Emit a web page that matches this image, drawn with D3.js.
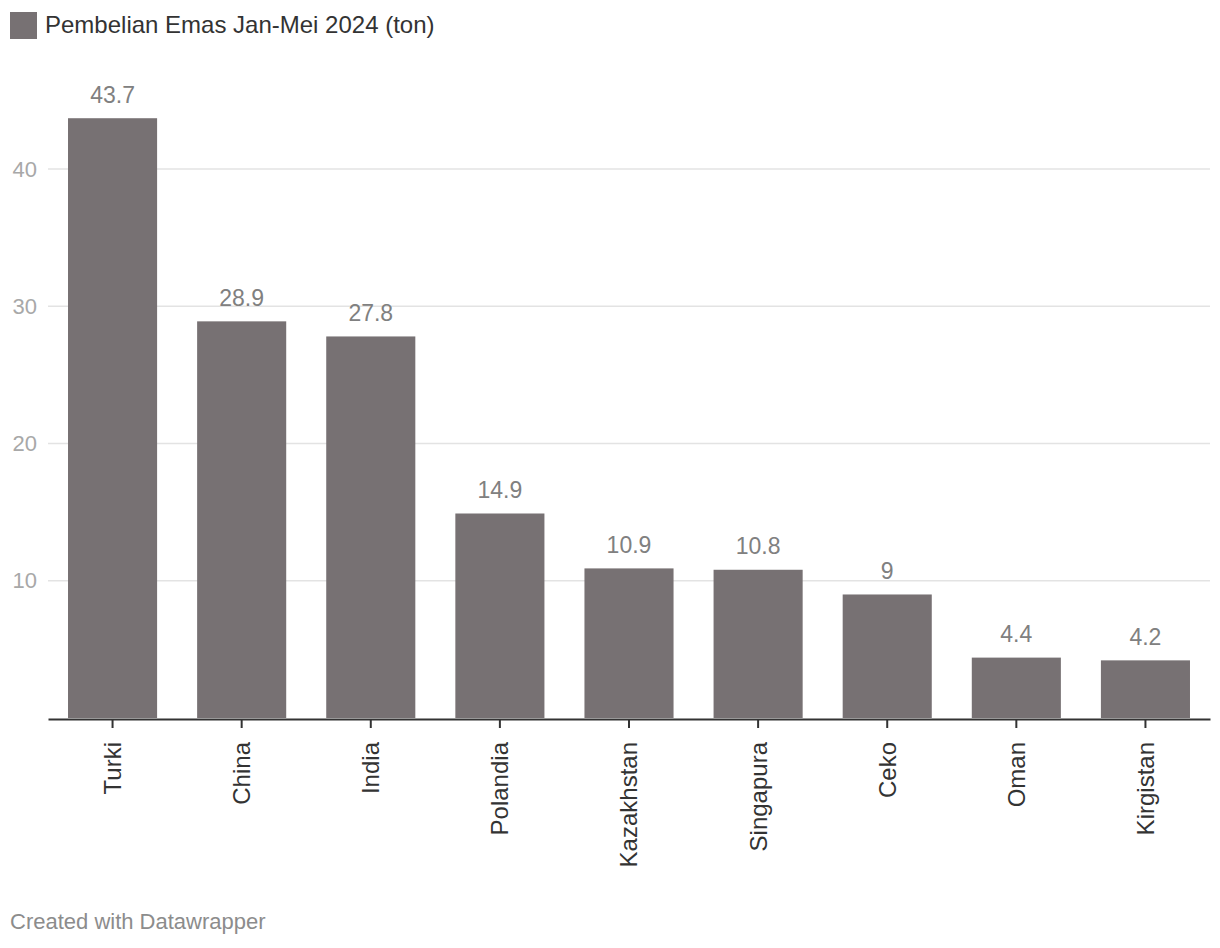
<!DOCTYPE html>
<html><head><meta charset="utf-8">
<script src="https://cdn.jsdelivr.net/npm/d3@7"></script>
<style>body{margin:0;background:#fff;font-family:"Liberation Sans",Arial,Helvetica,sans-serif;}</style>
</head><body>
<svg id="c" width="1220" height="948"></svg>
<script>
const categories = ["Turki","China","India","Polandia","Kazakhstan","Singapura","Ceko","Oman","Kirgistan"];
const values = [43.7,28.9,27.8,14.9,10.9,10.8,9,4.4,4.2];
const valueLabels = ["43.7","28.9","27.8","14.9","10.9","10.8","9","4.4","4.2"];
const yTicks = [10,20,30,40];
const seriesName = "Pembelian Emas Jan-Mei 2024 (ton)";

const svg = d3.select("#c");
const color = "#777173";
const x = d3.scaleBand().domain(categories).range([48,1210]).paddingInner(0.31).paddingOuter(0.155);
const y = d3.scaleLinear().domain([0,40]).range([718,169]);

// grid
const g = svg.append("g");
g.selectAll("line.grid").data(yTicks).join("line")
  .attr("x1",48).attr("x2",1210)
  .attr("y1",d=>y(d)).attr("y2",d=>y(d))
  .attr("stroke","#e3e3e3").attr("stroke-width",1.5);
g.selectAll("text.yt").data(yTicks).join("text")
  .attr("x",37).attr("y",d=>y(d)).attr("dy","0.35em")
  .attr("text-anchor","end").attr("fill","#a8a8a8").attr("font-size",22)
  .text(d=>d);

// bars
svg.selectAll("rect.bar").data(values).join("rect")
  .attr("x",(d,i)=>x(categories[i])).attr("width",x.bandwidth())
  .attr("y",d=>y(d)).attr("height",d=>y(0)-y(d)).attr("fill",color);

svg.selectAll("text.val").data(values).join("text")
  .attr("x",(d,i)=>x(categories[i])+x.bandwidth()/2)
  .attr("y",d=>y(d)-15.5).attr("text-anchor","middle")
  .attr("fill","#808080").attr("font-size",23).text((d,i)=>valueLabels[i]);

// x axis
const xa = svg.append("g").attr("transform",`translate(0,${y(0)+1})`).call(d3.axisBottom(x).tickSize(9).tickSizeOuter(0));
xa.select(".domain").attr("stroke","#333").attr("stroke-width",2);
xa.selectAll(".tick line").attr("stroke","#333").attr("stroke-width",2);
xa.selectAll(".tick text").attr("transform","rotate(-90)")
  .attr("x",-23).attr("y",0).attr("dy","0.35em").attr("text-anchor","end")
  .attr("fill","#333").attr("font-size",24).attr("font-family","Liberation Sans, Arial, sans-serif");

// legend
svg.append("rect").attr("x",10).attr("y",12).attr("width",27).attr("height",27).attr("fill",color);
svg.append("text").attr("x",45).attr("y",33).attr("fill","#333").attr("font-size",24).text(seriesName);

// footer
svg.append("text").attr("x",10).attr("y",929).attr("fill","#8c8c8c").attr("font-size",22).text("Created with Datawrapper");
</script>
</body></html>
